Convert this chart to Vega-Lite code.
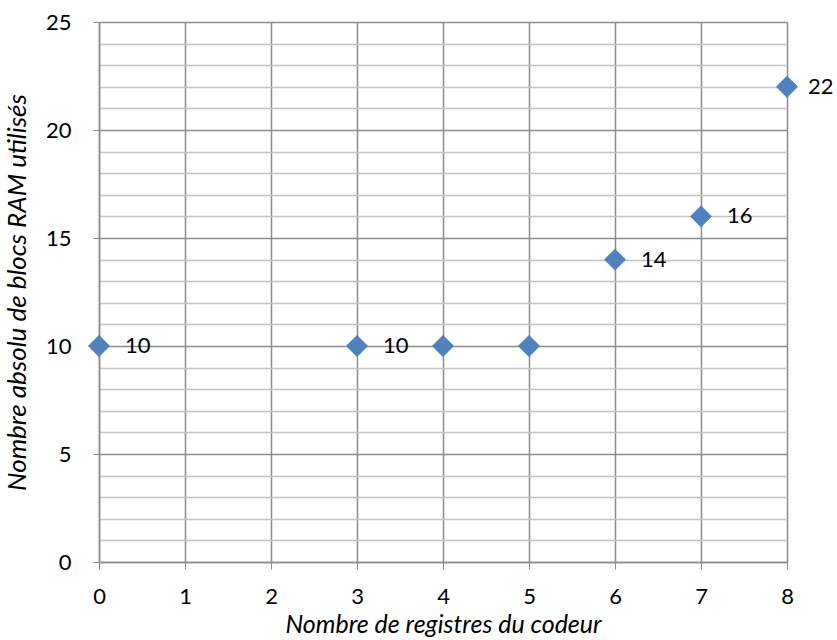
{
  "$schema": "https://vega.github.io/schema/vega-lite/v6.json",
  "autosize": "none",
  "width": 688,
  "height": 540,
  "padding": {"left": 99, "top": 22, "right": 50, "bottom": 78},
  "background": "white",
  "config": {
    "view": {"stroke": null},
    "font": "Lato",
    "axis": {"labelFont": "Lato", "titleFont": "Lato"},
    "text": {"font": "Lato"}
  },
  "data": {
    "values": [
      {"registres": 0, "blocs": 10, "label": "10"},
      {"registres": 3, "blocs": 10, "label": "10"},
      {"registres": 4, "blocs": 10, "label": ""},
      {"registres": 5, "blocs": 10, "label": ""},
      {"registres": 6, "blocs": 14, "label": "14"},
      {"registres": 7, "blocs": 16, "label": "16"},
      {"registres": 8, "blocs": 22, "label": "22"}
    ]
  },
  "encoding": {
    "x": {
      "field": "registres",
      "type": "quantitative",
      "scale": {"domain": [0, 8], "nice": false, "zero": false},
      "axis": {
        "title": "Nombre de registres du codeur",
        "titleFontStyle": "italic",
        "titleFontWeight": "normal",
        "titleFontSize": 25,
        "titleColor": "#000",
        "titlePadding": 5,
        "values": [0, 1, 2, 3, 4, 5, 6, 7, 8],
        "labelFontSize": 22,
        "labelColor": "#000",
        "labelPadding": 17,
        "labelFlush": false,
        "tickSize": 7,
        "tickColor": "#8c8c8c",
        "domainColor": "#8c8c8c",
        "domainWidth": 1.5,
        "grid": true,
        "gridColor": "#8c8c8c",
        "gridWidth": 1.5
      }
    },
    "y": {
      "field": "blocs",
      "type": "quantitative",
      "scale": {"domain": [0, 25], "nice": false},
      "axis": {
        "title": "Nombre absolu de blocs RAM utilisés",
        "titleFontStyle": "italic",
        "titleFontWeight": "normal",
        "titleFontSize": 26,
        "titleColor": "#000",
        "titlePadding": 15,
        "values": [0, 1, 2, 3, 4, 5, 6, 7, 8, 9, 10, 11, 12, 13, 14, 15, 16, 17, 18, 19, 20, 21, 22, 23, 24, 25],
        "labelExpr": "datum.value % 5 === 0 ? datum.label : ''",
        "labelFontSize": 22,
        "labelColor": "#000",
        "labelPadding": 22,
        "labelFlush": false,
        "tickSize": 6,
        "tickColor": "#8c8c8c",
        "tickOpacity": {"condition": {"test": "datum.value % 5 === 0", "value": 1}, "value": 0},
        "domainColor": "#8c8c8c",
        "domainWidth": 1.5,
        "grid": true,
        "gridColor": {"condition": {"test": "datum.value % 5 === 0", "value": "#8c8c8c"}, "value": "#c4c4c4"},
        "gridWidth": 1.5
      }
    }
  },
  "layer": [
    {
      "mark": {"type": "point", "shape": "diamond", "size": 460, "filled": true, "color": "#4f81bd", "opacity": 1, "stroke": "#4a7ebb", "strokeWidth": 0.5}
    },
    {
      "transform": [{"filter": "datum.registres < 8"}],
      "mark": {"type": "text", "align": "left", "baseline": "middle", "dx": 26, "fontSize": 22, "color": "#000"},
      "encoding": {"text": {"field": "label"}}
    },
    {
      "transform": [{"filter": "datum.registres == 8"}],
      "mark": {"type": "text", "align": "left", "baseline": "middle", "dx": 21, "fontSize": 22, "color": "#000"},
      "encoding": {"text": {"field": "label"}}
    }
  ]
}
